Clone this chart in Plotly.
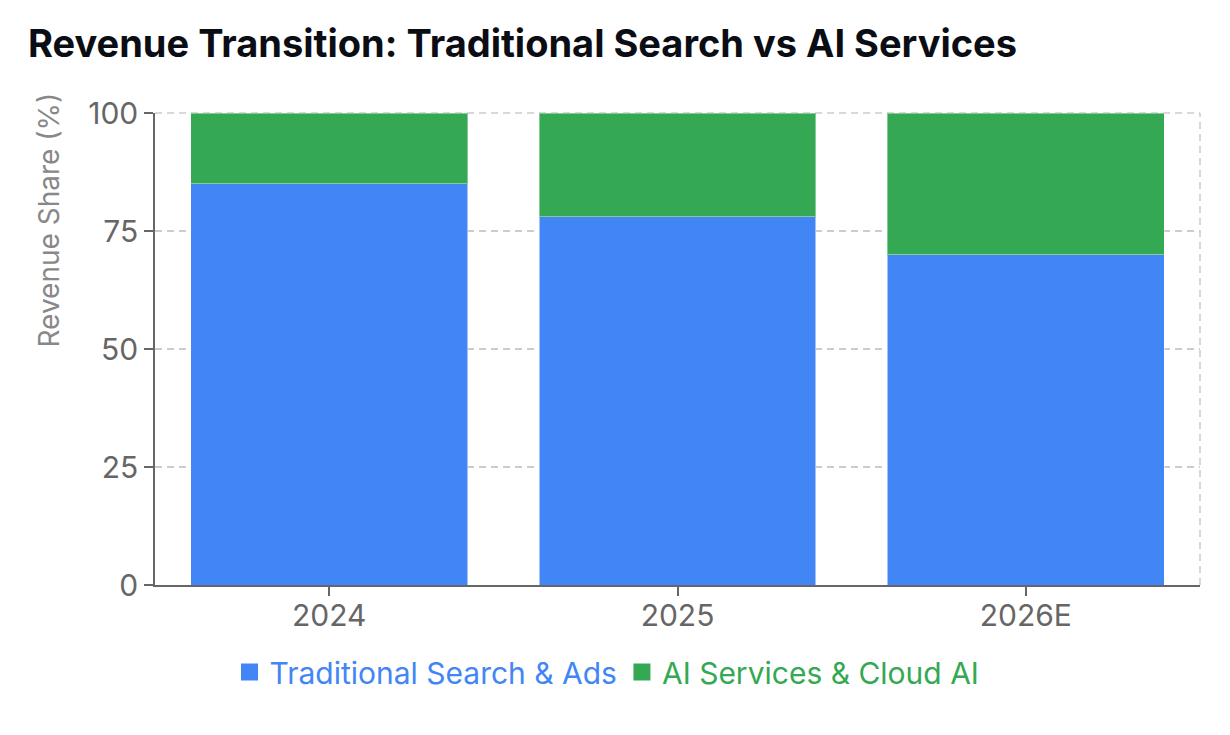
import plotly.graph_objects as go

categories = ["2024", "2025", "2026E"]
traditional = [85, 78, 70]
ai_services = [15, 22, 30]
y_ticks = [0, 25, 50, 75, 100]
series_names = ["Traditional Search &amp; Ads", "AI Services &amp; Cloud AI"]

BLUE = "#4285F4"
GREEN = "#34A853"
FONT = "Inter, Roboto, sans-serif"

# page has an 8px body margin; compensate so the plot lands where the reference has it
OFF = 8
W, H = 1230 - OFF, 735 - OFF
L, R, T, B = 155 - OFF, 30, 113 - OFF, 150
pw = W - L - R
ph = H - T - B

fig = go.Figure()
fig.add_trace(go.Bar(
    x=categories, y=traditional, showlegend=False,
    marker=dict(color=BLUE, line=dict(color="rgba(255,255,255,0.5)", width=1)),
))
fig.add_trace(go.Bar(
    x=categories, y=ai_services, showlegend=False,
    marker=dict(color=GREEN, line=dict(color="rgba(255,255,255,0.4)", width=1)),
))
# legend entries
for nm, col in zip(series_names, [BLUE, GREEN]):
    fig.add_trace(go.Bar(
        x=[None], y=[None],
        name="<span style='color:%s'>%s</span>" % (col, nm),
        marker=dict(color=col, line=dict(color=col, width=12)),
    ))

fig.update_layout(
    width=W, height=H,
    barmode="stack",
    bargap=0.205,
    plot_bgcolor="white",
    paper_bgcolor="white",
    margin=dict(l=L, r=R, t=T, b=B),
    font=dict(family=FONT, size=30, color="#666666"),
    title=dict(
        text="<b>Revenue Transition: Traditional Search vs AI Services</b>",
        x=(28 - OFF) / W, xanchor="left", xref="container",
        y=1 - (44 - OFF) / H, yanchor="middle", yref="container",
        font=dict(family=FONT, size=38, color="#0b0d14"),
    ),
    showlegend=True,
    legend=dict(
        orientation="h",
        x=(607 - 155) / pw, xanchor="center",
        y=(585 - 672) / ph, yanchor="middle",
        font=dict(family=FONT, size=30),
        traceorder="normal",
        itemwidth=30,
    ),
    xaxis=dict(
        showline=True, linecolor="#666666", linewidth=1.5,
        ticks="outside", ticklen=9, tickcolor="#666666", tickwidth=1.5,
        showgrid=False,
        ticklabelstandoff=-6,
        tickfont=dict(size=30, color="#666666"),
    ),
    yaxis=dict(
        range=[0, 100],
        tickvals=y_ticks,
        showline=True, linecolor="#666666", linewidth=1.5,
        ticks="outside", ticklen=9, tickcolor="#666666", tickwidth=1.5,
        showgrid=True, gridcolor="#cccccc", griddash="7px,5px", gridwidth=1.5,
        zeroline=False,
        tickfont=dict(size=30, color="#666666"),
    ),
)

# dashed frame lines at top and right edge (grid)
fig.add_shape(type="line", xref="paper", yref="paper", x0=1, x1=1, y0=0, y1=1,
              line=dict(color="#cccccc", width=1.5, dash="7px,5px"), layer="below")
fig.add_shape(type="line", xref="paper", yref="paper", x0=0, x1=1, y0=1, y1=1,
              line=dict(color="#cccccc", width=1.5, dash="7px,5px"), layer="below")

fig.add_annotation(
    text="Revenue Share (%)",
    xref="paper", yref="paper",
    x=(48 - 155) / pw, y=(585 - 350) / ph,
    xanchor="center", yanchor="bottom",
    textangle=-90, showarrow=False,
    font=dict(family=FONT, size=28, color="#888888"),
)

fig.write_html("out.html")
